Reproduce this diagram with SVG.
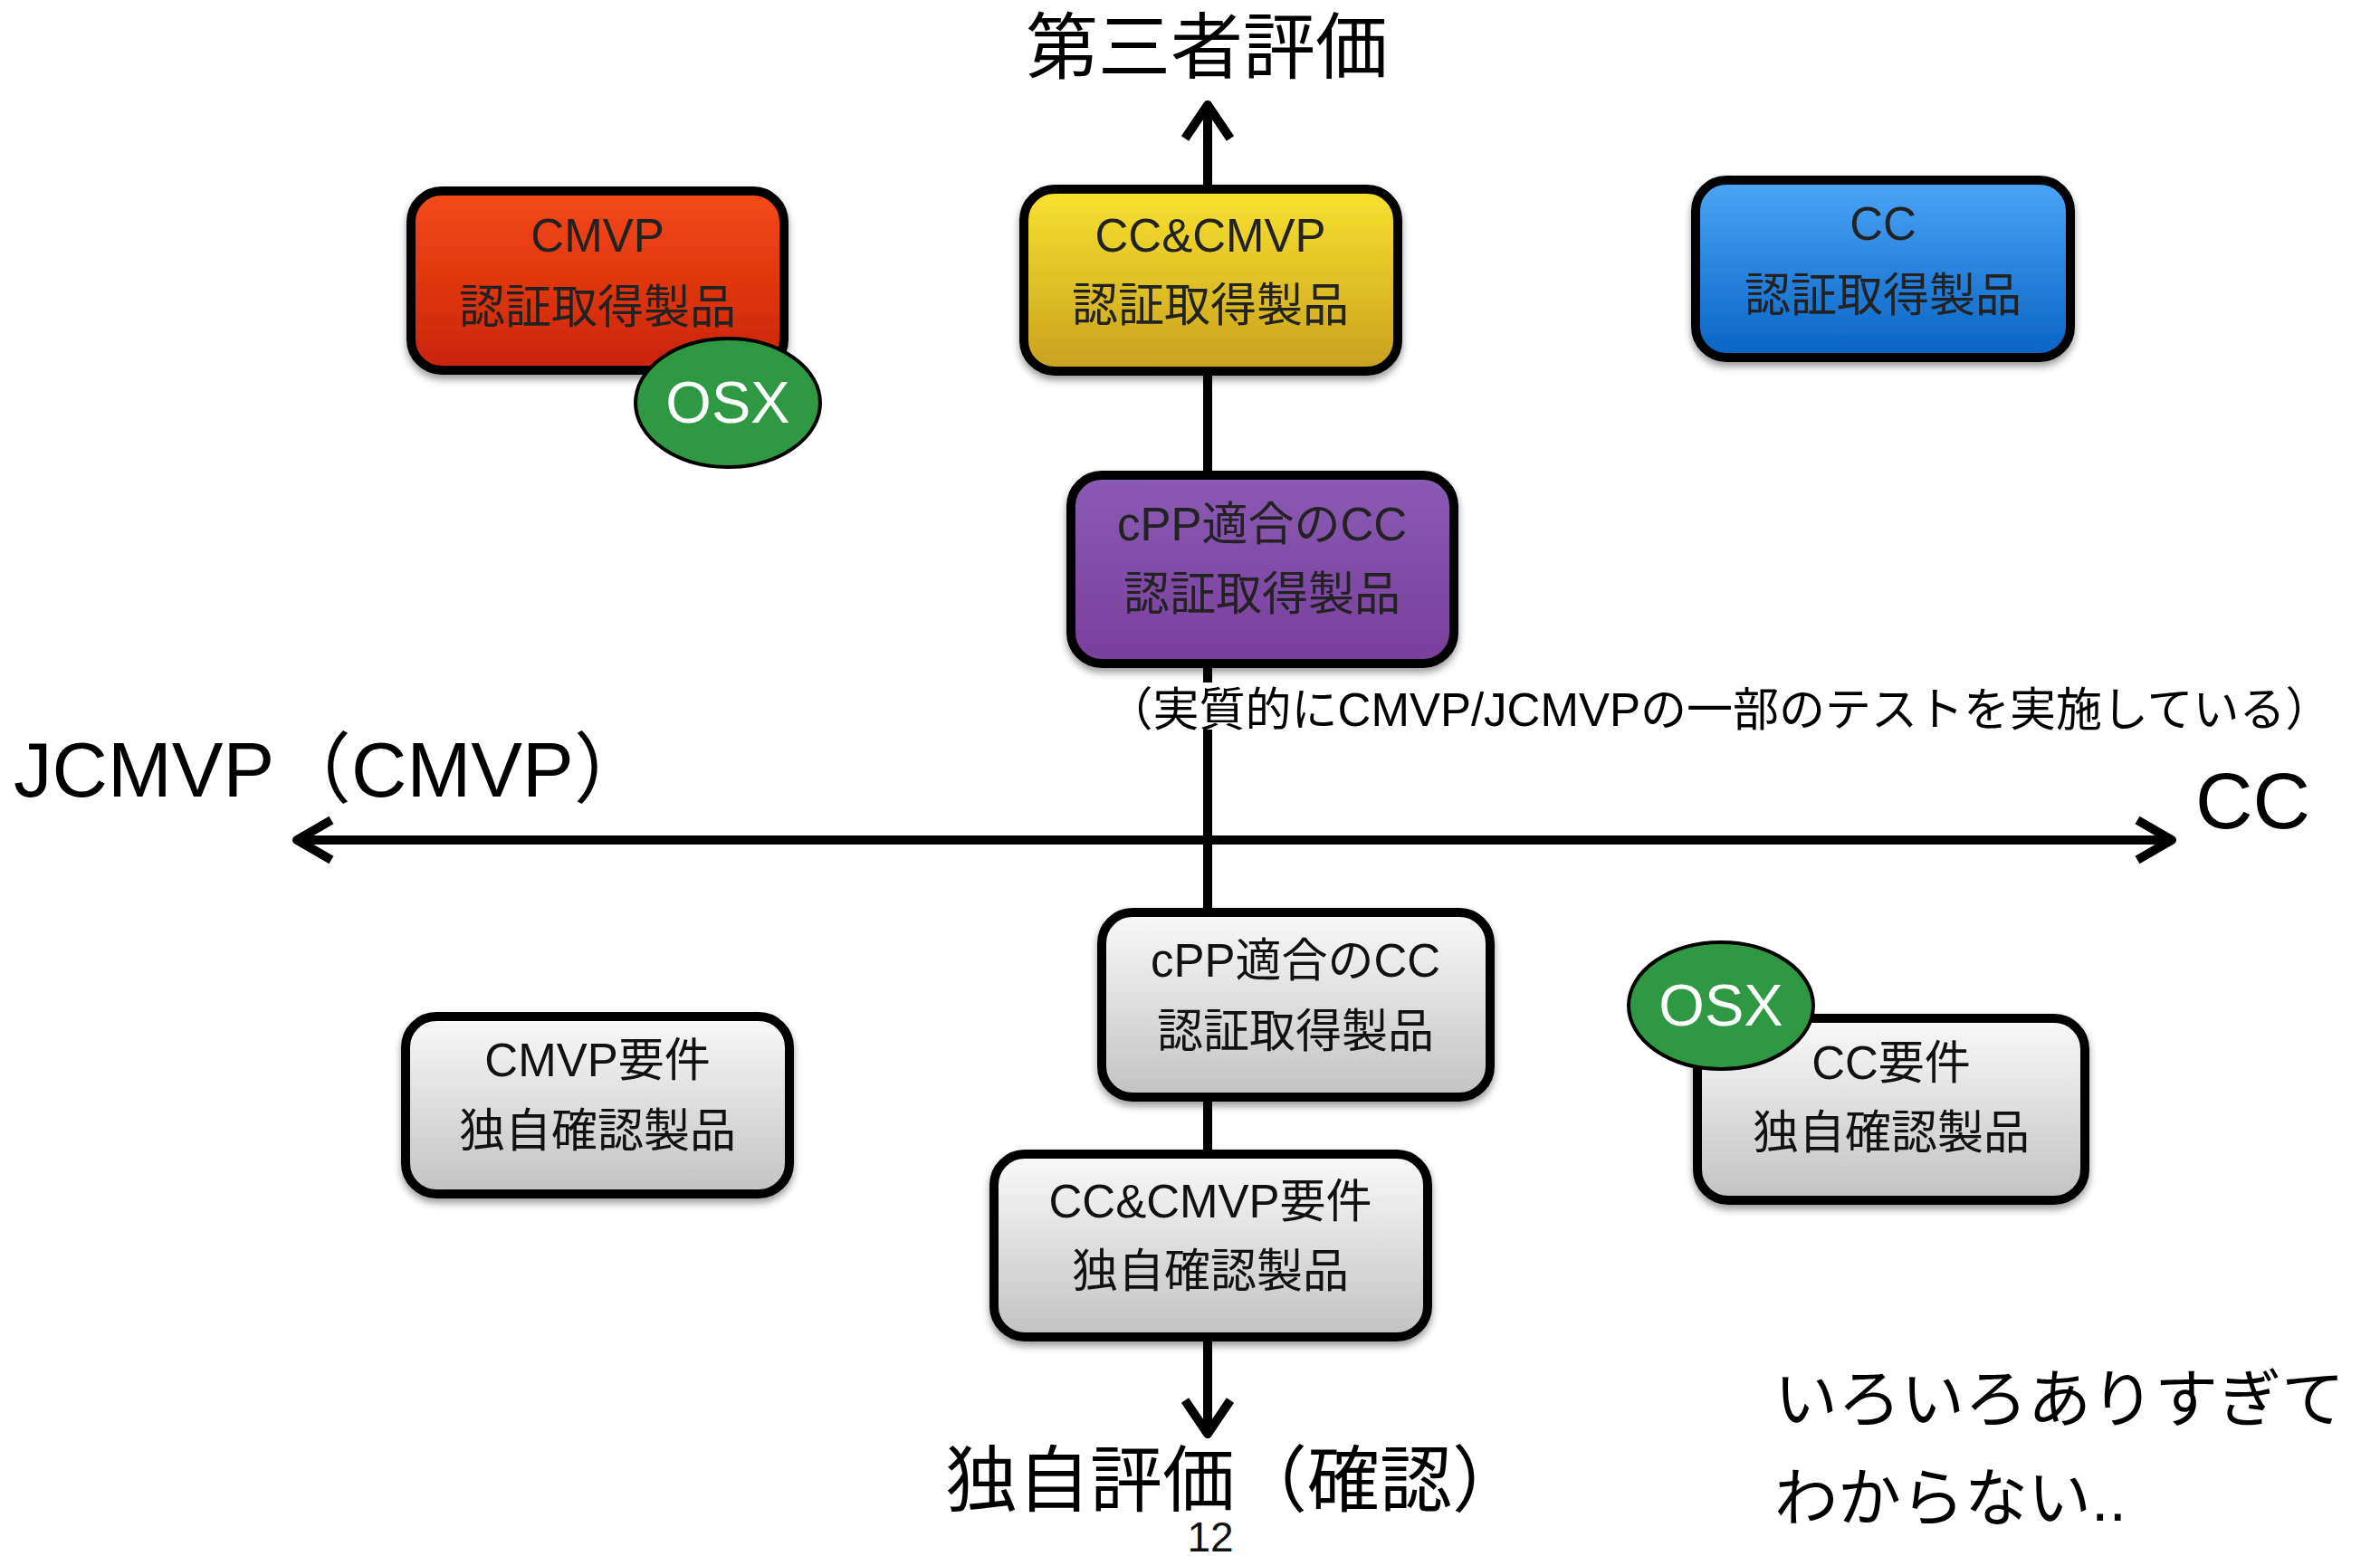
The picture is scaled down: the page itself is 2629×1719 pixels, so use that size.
<svg xmlns="http://www.w3.org/2000/svg" width="2629" height="1719" viewBox="0 0 2629 1719">
<style>
text{font-family:"Liberation Sans","Noto Sans CJK JP",sans-serif;}
.box{stroke:#000;stroke-width:10;}
.bt{font-size:51px;text-anchor:middle;fill:#222;}
.gt{font-size:51px;text-anchor:middle;fill:#111;}
.osx{fill:#2F9842;stroke:#000;stroke-width:4;}
.osxt{font-size:65px;text-anchor:middle;fill:#fff;}
.axis{stroke:#000;stroke-width:10;fill:none;}
.head{stroke:#000;stroke-width:10;fill:none;stroke-linejoin:round;stroke-linecap:butt;}
.lbl{fill:#000;}
</style>
<defs>
<linearGradient id="gRed" x1="0" y1="0" x2="0" y2="1"><stop offset="0" stop-color="#F64A17"/><stop offset="1" stop-color="#C92408"/></linearGradient>
<linearGradient id="gYel" x1="0" y1="0" x2="0" y2="1"><stop offset="0" stop-color="#F9E12F"/><stop offset="1" stop-color="#C8A11F"/></linearGradient>
<linearGradient id="gPur" x1="0" y1="0" x2="0" y2="1"><stop offset="0" stop-color="#8A5BB3"/><stop offset="1" stop-color="#793E9B"/></linearGradient>
<linearGradient id="gBlu" x1="0" y1="0" x2="0" y2="1"><stop offset="0" stop-color="#4BA5F6"/><stop offset="1" stop-color="#0963C4"/></linearGradient>
<linearGradient id="gGry" x1="0" y1="0" x2="0" y2="1"><stop offset="0" stop-color="#F9F9F9"/><stop offset="1" stop-color="#C2C2C2"/></linearGradient>
<filter id="sh" x="-10%" y="-10%" width="120%" height="130%"><feDropShadow dx="0" dy="5" stdDeviation="4" flood-color="#000" flood-opacity="0.4"/></filter>
</defs>
<rect width="2629" height="1719" fill="#fff"/>

<g id="connectors">
<line class="axis" x1="1334" y1="118" x2="1334" y2="1582"/>
<polyline class="head" points="1309,153 1334,116 1359,153"/>
<polyline class="head" points="1309,1547 1334,1584 1359,1547"/>
<line class="axis" x1="329" y1="928" x2="2398" y2="928"/>
<polyline class="head" points="366,906 328,928 366,950"/>
<polyline class="head" points="2361,906 2399,928 2361,950"/>
</g>

<g id="axis-labels">
<text class="lbl" x="1333" y="80" font-size="80" text-anchor="middle">第三者評価</text>
<text class="lbl" x="1044" y="1663" font-size="80">独自評価（確認）</text>
<text class="lbl" x="15" y="880" font-size="85">JCMVP（CMVP）</text>
<text class="lbl" x="2425" y="915" font-size="88">CC</text>
</g>

<g id="note">
<rect x="1220" y="754" width="1360" height="52" fill="#fff"/>
<text class="lbl" x="1899" y="802" font-size="51" text-anchor="middle">（実質的にCMVP/JCMVPの一部のテストを実施している）</text>
</g>

<g id="node-cmvp">
<rect class="box" x="454" y="211" width="412" height="198" rx="34" fill="url(#gRed)" filter="url(#sh)"/>
<text class="bt" x="660" y="278">CMVP</text>
<text class="bt" x="660" y="357">認証取得製品</text>
</g>
<g id="osx-1">
<ellipse class="osx" cx="804" cy="445" rx="102" ry="71"/>
<text class="osxt" x="804" y="467">OSX</text>
</g>

<g id="node-cc-cmvp">
<rect class="box" x="1131" y="209" width="413" height="201" rx="34" fill="url(#gYel)" filter="url(#sh)"/>
<text class="bt" x="1337" y="278" font-size="54">CC&amp;CMVP</text>
<text class="bt" x="1337" y="355">認証取得製品</text>
</g>

<g id="node-cc">
<rect class="box" x="1873" y="199" width="414" height="196" rx="34" fill="url(#gBlu)" filter="url(#sh)"/>
<text class="bt" x="2080" y="265">CC</text>
<text class="bt" x="2080" y="344">認証取得製品</text>
</g>

<g id="node-cpp-cc">
<rect class="box" x="1183" y="525" width="423" height="208" rx="34" fill="url(#gPur)" filter="url(#sh)"/>
<text class="bt" x="1394" y="597">cPP適合のCC</text>
<text class="bt" x="1394" y="674">認証取得製品</text>
</g>

<g id="node-cpp-cc-own">
<rect class="box" x="1217" y="1008" width="429" height="204" rx="34" fill="url(#gGry)" filter="url(#sh)"/>
<text class="gt" x="1431" y="1079">cPP適合のCC</text>
<text class="gt" x="1431" y="1157">認証取得製品</text>
</g>

<g id="node-cc-cmvp-own">
<rect class="box" x="1098" y="1275" width="479" height="202" rx="34" fill="url(#gGry)" filter="url(#sh)"/>
<text class="gt" x="1337" y="1345">CC&amp;CMVP要件</text>
<text class="gt" x="1337" y="1422">独自確認製品</text>
</g>

<g id="node-cmvp-own">
<rect class="box" x="448" y="1123" width="424" height="196" rx="34" fill="url(#gGry)" filter="url(#sh)"/>
<text class="gt" x="660" y="1189">CMVP要件</text>
<text class="gt" x="660" y="1267">独自確認製品</text>
</g>

<g id="node-cc-own">
<rect class="box" x="1875" y="1125" width="428" height="201" rx="34" fill="url(#gGry)" filter="url(#sh)"/>
<text class="gt" x="2089" y="1192">CC要件</text>
<text class="gt" x="2089" y="1269">独自確認製品</text>
</g>
<g id="osx-2">
<ellipse class="osx" cx="1901" cy="1111" rx="102" ry="70"/>
<text class="osxt" x="1901" y="1133">OSX</text>
</g>

<g id="comment">
<text class="lbl" x="1960" y="1571" font-size="70">いろいろありすぎて</text>
<text class="lbl" x="1960" y="1680" font-size="70">わからない..</text>
</g>
<text id="page" x="1337" y="1714" font-size="46" text-anchor="middle" fill="#111">12</text>
</svg>
